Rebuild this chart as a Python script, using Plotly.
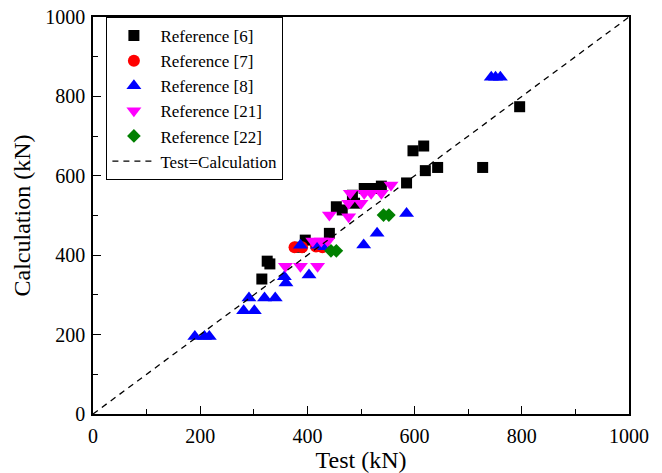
import plotly.graph_objects as go

# Reference [6]
ref6_test = [315, 325, 330, 385, 396, 441, 454, 465, 484, 488, 506, 525, 538, 585, 597, 617, 620, 643, 727, 796]
ref6_calc = [340, 385, 378, 420, 438, 455, 522, 514, 551, 531, 568, 568, 574, 582, 663, 675, 613, 621, 621, 774]

# Reference [7]
ref7_test = [376, 390, 416, 428]
ref7_calc = [420, 420, 422, 420]

# Reference [8]
ref8_test = [190, 208, 217, 291, 320, 340, 281, 301, 357, 360, 403, 387, 419, 432, 505, 530, 585, 743, 751, 760]
ref8_calc = [195, 195, 195, 292, 292, 292, 260, 260, 346, 330, 350, 425, 425, 421, 426, 455, 505, 848, 848, 848]

# Reference [21]
ref21_test = [359, 387, 419, 410, 426, 438, 441, 477, 477, 480, 500, 506, 519, 538, 556]
ref21_calc = [372, 372, 372, 436, 436, 436, 501, 497, 531, 556, 531, 556, 556, 556, 577]

# Reference [22]
ref22_test = [444, 454, 542, 552]
ref22_calc = [411, 411, 501, 501]

# 1:1 line
line_x = [0, 1000]
line_y = [0, 1000]

FONT = "Liberation Serif"

fig = go.Figure()

def add_series(x, y, name, symbol, color, size):
    fig.add_trace(go.Scatter(
        x=x, y=y, mode="markers", name=name,
        marker=dict(symbol=symbol, color=color, size=size, line=dict(width=0)),
    ))

add_series(ref6_test, ref6_calc, "Reference [6]", "square", "black", 11)
add_series(ref7_test, ref7_calc, "Reference [7]", "circle", "red", 12)
add_series(ref8_test, ref8_calc, "Reference [8]", "triangle-up", "blue", 13)
add_series(ref21_test, ref21_calc, "Reference [21]", "triangle-down", "magenta", 13)
add_series(ref22_test, ref22_calc, "Reference [22]", "diamond", "green", 10.5)

fig.add_trace(go.Scatter(
    x=line_x, y=line_y, mode="lines", name="Test=Calculation",
    line=dict(color="black", width=1.3, dash="6px,5px"),
))

axis_common = dict(
    range=[0, 1000], dtick=200, tick0=0,
    showgrid=False, zeroline=False, automargin=False,
    showline=True, linecolor="black", linewidth=1.5, mirror=True,
    ticks="inside", ticklen=8, tickwidth=1.3, tickcolor="black",
    minor=dict(dtick=100, ticks="inside", ticklen=5, tickwidth=1.3, tickcolor="black", showgrid=False),
    tickfont=dict(family=FONT, size=20, color="black"),
)

fig.update_xaxes(**axis_common, ticklabelstandoff=3,
                 title=dict(text="Test (kN)", font=dict(family=FONT, size=24, color="black"), standoff=9))
fig.update_yaxes(**axis_common, ticklabelstandoff=2,
                 title=dict(text="Calculation (kN)", font=dict(family=FONT, size=24, color="black"), standoff=8))

fig.update_layout(
    width=662, height=473,
    margin=dict(l=93, r=33, t=17, b=59),
    plot_bgcolor="white", paper_bgcolor="white",
    font=dict(family=FONT, color="black"),
    legend=dict(
        x=0.025, y=1, xanchor="left", yanchor="top",
        bordercolor="black", borderwidth=1, bgcolor="white",
        font=dict(family=FONT, size=17, color="black"),
        itemwidth=43, tracegroupgap=0,
    ),
)

fig.write_html("out.html")
